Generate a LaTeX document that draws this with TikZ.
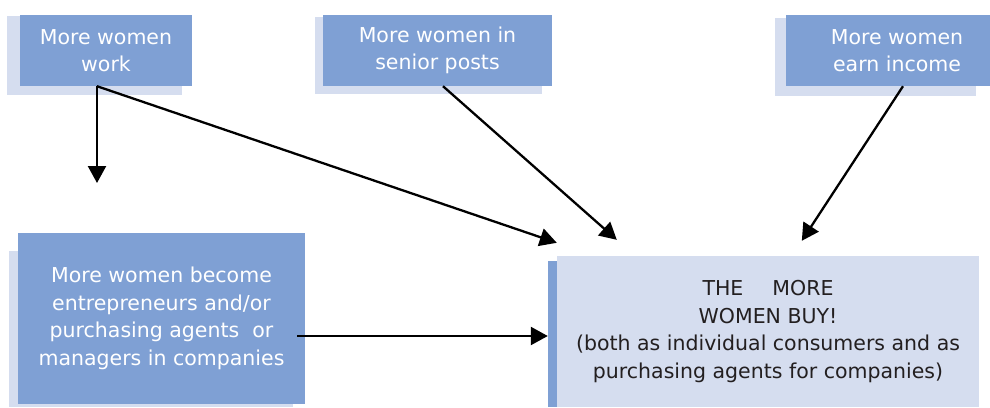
\documentclass[tikz,border=0pt]{standalone}
\usepackage{fontspec}
\setmainfont{DejaVu Sans}
\usetikzlibrary{arrows.meta}
\definecolor{midblue}{RGB}{127,160,212}
\definecolor{paleblue}{RGB}{213,221,239}
\definecolor{inkgray}{RGB}{35,31,32}
\def\workshadow{(7,16) rectangle (182,95)}
\def\seniorshadow{(315,17) rectangle (542,94)}
\def\incomeshadow{(775,18) rectangle (976,96)}
\def\agentsshadow{(9,251) rectangle (293,407)}
\def\buystrip{(548,261) rectangle (557,407)}

\begin{document}
\begin{tikzpicture}[x=1pt,y=-1pt,
    frontbox/.style={fill=midblue, text=white, inner sep=0pt, align=center,
      font=\fontsize{20.5}{27.5}\selectfont},
    arr/.style={line width=2.3pt, -{Triangle[length=17pt,width=18pt]}}]
        \useasboundingbox (0,0) rectangle (990,407);
        \clip (0,0) rectangle (990,407);
        % shadows behind the boxes
        \fill[paleblue] \workshadow;
        \fill[paleblue] \seniorshadow;
        \fill[paleblue] \incomeshadow;
        \fill[paleblue] \agentsshadow;
        \fill[midblue] \buystrip;

        \node[frontbox, minimum width=172pt, minimum height=71pt] (work) at (106,50.5) {More women\\work};
        \node[frontbox, minimum width=229pt, minimum height=71pt] (senior) at (437.5,50.5) {More women in\\senior posts};
        \node[frontbox, minimum width=222pt, minimum height=71pt] (income) at (897,50.5) {More women\\earn income};
        \node[frontbox, minimum width=287pt, minimum height=171pt] (agents) at (161.5,318.5)
            {More women become\\entrepreneurs and/or\\purchasing agents\ \ or\\managers in companies};
        \node[frontbox, fill=paleblue, text=inkgray, minimum width=422pt, minimum height=151pt] (buy) at (768,331.5)
            {THE\hspace{29pt}MORE\\WOMEN BUY!\\(both as individual consumers and as\\purchasing agents for companies)};

        \coordinate (drop) at (97,183);
        \draw[arr] ([xshift=-9pt]work.south) -- (drop);
        \draw[arr] ([xshift=-9pt]work.south) -- ([yshift=13pt]buy.north west);
        \draw[arr] ([xshift=5.5pt]senior.south) -- ([shift={(60pt,16pt)}]buy.north west);
        \draw[arr] ([xshift=6pt]income.south) -- ([shift={(245pt,15pt)}]buy.north west);
        \draw[arr] ([shift={(-8pt,-17.5pt)}]agents.east) -- ([shift={(-9pt,-4.5pt)}]buy.west);
\end{tikzpicture}
\end{document}
